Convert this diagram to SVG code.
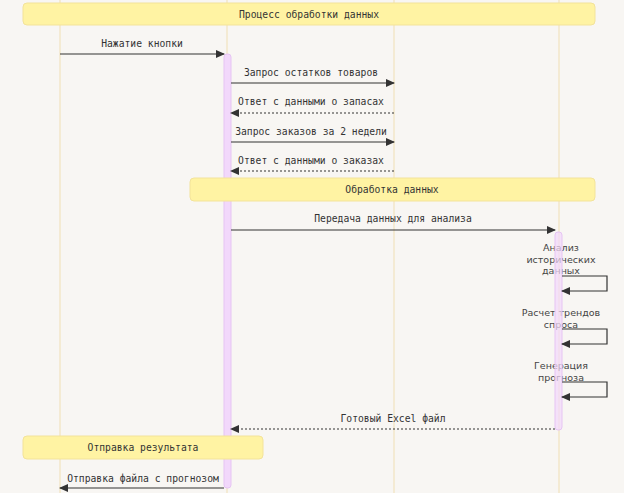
<svg xmlns="http://www.w3.org/2000/svg" width="624" height="493" viewBox="0 0 624 493">
<defs>
<marker id="ah" markerUnits="userSpaceOnUse" markerWidth="9" markerHeight="8" refX="8" refY="4" orient="auto">
<path d="M0,0 L9,4 L0,8 z" fill="#333"/>
</marker>
<style>
.bg{fill:#f8f6f3}
.life{stroke:#f0dfb4;stroke-width:1;fill:none}
.note{fill:#fff3a3;stroke:#f3e39a;stroke-width:1}
.act{fill:#f2d8fb;stroke:#e6c4f3;stroke-width:1}
.act2{fill-opacity:0.7}
.msg{stroke:#333;stroke-width:1.2;fill:none}
.dash{stroke-dasharray:2,2}
.t{font-family:"DejaVu Sans Mono","Liberation Mono",monospace;font-size:9.7px;fill:#333;text-anchor:middle}
.s{font-family:"DejaVu Sans","Liberation Sans",sans-serif;font-size:9.5px;fill:#444;text-anchor:middle}
</style>
</defs>
<rect class="bg" x="0" y="0" width="624" height="493"/>
<g id="lifelines">
<line class="life" x1="60" y1="0" x2="60" y2="493"/>
<line class="life" x1="227" y1="0" x2="227" y2="493"/>
<line class="life" x1="394" y1="0" x2="394" y2="493"/>
<line class="life" x1="559" y1="0" x2="559" y2="493"/>
</g>
<g id="note-process">
<rect class="note" x="23" y="3" width="572" height="22" rx="4"/>
<text class="t" x="309" y="17.5">Процесс обработки данных</text>
</g>
<g id="self-labels">
<text class="s" x="561" y="251">Анализ</text>
<text class="s" x="561" y="262.5">исторических</text>
<text class="s" x="561" y="274">данных</text>
<text class="s" x="561" y="316">Расчет трендов</text>
<text class="s" x="561" y="327.5">спроса</text>
<text class="s" x="561" y="369">Генерация</text>
<text class="s" x="561" y="380.5">прогноза</text>
</g>
<g id="activation-app">
<rect class="act" x="224" y="54" width="7" height="434" rx="3"/>
</g>
<g id="activation-analyzer">
<rect class="act act2" x="555" y="232" width="7" height="198" rx="3"/>
</g>
<g id="note-processing">
<rect class="note" x="190" y="178" width="405" height="23" rx="4"/>
<text class="t" x="392" y="192.5">Обработка данных</text>
</g>
<g id="note-result">
<rect class="note" x="23" y="436" width="240" height="23" rx="4"/>
<text class="t" x="143" y="451">Отправка результата</text>
</g>
<g id="connectors">
<line class="msg" x1="60" y1="54" x2="224" y2="54" marker-end="url(#ah)"/>
<text class="t" x="142" y="47">Нажатие кнопки</text>
<line class="msg" x1="231" y1="83" x2="394" y2="83" marker-end="url(#ah)"/>
<text class="t" x="311" y="76">Запрос остатков товаров</text>
<line class="msg dash" x1="394" y1="113" x2="231" y2="113" marker-end="url(#ah)"/>
<text class="t" x="311" y="105">Ответ с данными о запасах</text>
<line class="msg" x1="231" y1="142" x2="394" y2="142" marker-end="url(#ah)"/>
<text class="t" x="311" y="134.5">Запрос заказов за 2 недели</text>
<line class="msg dash" x1="394" y1="171" x2="231" y2="171" marker-end="url(#ah)"/>
<text class="t" x="311" y="164">Ответ с данными о заказах</text>
<line class="msg" x1="231" y1="230" x2="555" y2="230" marker-end="url(#ah)"/>
<text class="t" x="393" y="222">Передача данных для анализа</text>
<polyline class="msg" points="562,276 607,276 607,291 562,291" marker-end="url(#ah)"/>
<polyline class="msg" points="562,329 607,329 607,344 562,344" marker-end="url(#ah)"/>
<polyline class="msg" points="562,382 607,382 607,397 562,397" marker-end="url(#ah)"/>
<line class="msg dash" x1="555" y1="429" x2="231" y2="429" marker-end="url(#ah)"/>
<text class="t" x="393" y="421.5">Готовый Excel файл</text>
<line class="msg" x1="224" y1="488" x2="60" y2="488" marker-end="url(#ah)"/>
<text class="t" x="143" y="481.5">Отправка файла с прогнозом</text>
</g>
</svg>
